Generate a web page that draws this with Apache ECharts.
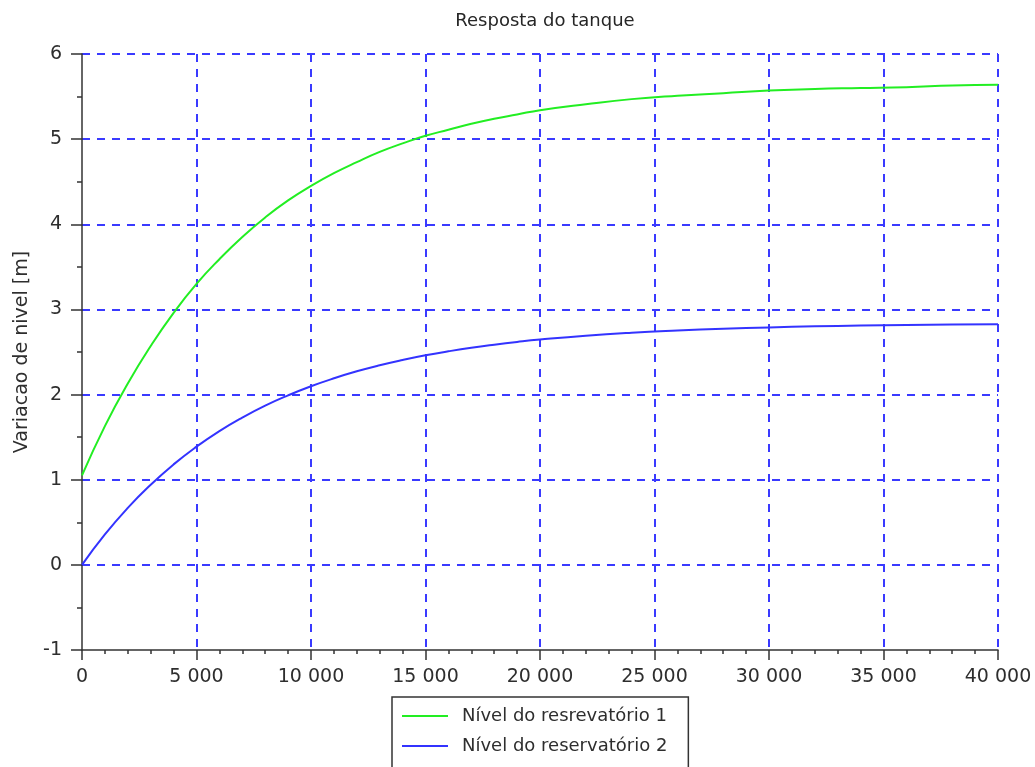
<!DOCTYPE html>
<html>
<head>
<meta charset="utf-8">
<title>Resposta do tanque</title>
<script src="https://cdn.jsdelivr.net/npm/echarts@6/dist/echarts.min.js"></script>
<style>
  html, body { margin: 0; padding: 0; background: #ffffff; }
  #chart { width: 1035px; height: 767px; }
</style>
</head>
<body>
<div id="chart"></div>
<script>
// Time samples (s) and level variation (m) of both reservoirs
const timePoints = [0, 1000, 2000, 3000, 4000, 5000, 6000, 7000, 8000, 9000,
  10000, 11000, 12000, 13000, 14000, 15000, 16000, 17000, 18000, 19000,
  20000, 22000, 24000, 26000, 28000, 30000, 32000, 34000, 36000, 38000, 40000];
const level1 = [1.05, 1.63, 2.13, 2.57, 2.96, 3.30, 3.59, 3.85, 4.08, 4.28,
  4.45, 4.60, 4.73, 4.85, 4.95, 5.04, 5.11, 5.18, 5.24, 5.29,
  5.34, 5.41, 5.47, 5.51, 5.54, 5.57, 5.59, 5.60, 5.61, 5.63, 5.64];
const level2 = [0, 0.357, 0.669, 0.941, 1.180, 1.388, 1.571, 1.730, 1.870, 1.991,
  2.098, 2.191, 2.273, 2.344, 2.406, 2.461, 2.508, 2.550, 2.586, 2.618,
  2.646, 2.692, 2.727, 2.753, 2.774, 2.789, 2.801, 2.810, 2.817, 2.823, 2.827];
const seriesNames = ['Nível do resrevatório 1', 'Nível do reservatório 2'];

const FONT = 'DejaVu Sans';
const TEXT = '#2e2e2e';
const AXIS = '#333333';
const GRID_LINE = { color: '#3a3aff', width: 2, type: [8, 7] };

function thousands(v) {
  return String(v).replace(/\B(?=(\d{3})+(?!\d))/g, ' ');
}
function pairs(xs, ys) {
  return xs.map((x, i) => [x, ys[i]]);
}

const chart = echarts.init(document.getElementById('chart'), null, { renderer: 'canvas' });
chart.setOption({
  animation: false,
  backgroundColor: '#ffffff',
  title: {
    text: 'Resposta do tanque',
    left: 540, top: 7, textAlign: 'center',
    textStyle: { fontFamily: FONT, fontSize: 18, fontWeight: 'normal', color: '#262626' }
  },
  grid: { left: 82, right: 37, top: 54, bottom: 117, containLabel: false },
  legend: {
    orient: 'vertical',
    left: 392, top: 697, height: 60,
    padding: [9, 21, 16, 10],
    itemGap: 10,
    icon: 'rect',
    itemWidth: 46, itemHeight: 2,
    borderColor: AXIS, borderWidth: 1.5,
    textStyle: { fontFamily: FONT, fontSize: 18, color: TEXT, lineHeight: 20, padding: [0, 0, 0, 9] },
    data: seriesNames
  },
  xAxis: {
    type: 'value', min: 0, max: 40000, interval: 5000,
    axisLine: { onZero: false, lineStyle: { color: AXIS, width: 1.5 } },
    axisTick: { length: 10, lineStyle: { color: AXIS, width: 1.5 } },
    minorTick: { show: true, splitNumber: 5, length: 4, lineStyle: { color: AXIS, width: 1.5 } },
    axisLabel: { fontFamily: FONT, fontSize: 19, color: TEXT, margin: 18, formatter: thousands },
    splitLine: { show: true, showMinLine: false, lineStyle: GRID_LINE }
  },
  yAxis: {
    type: 'value', min: -1, max: 6, interval: 1,
    name: 'Variacao de nivel [m]', nameLocation: 'middle', nameGap: 50,
    nameTextStyle: { fontFamily: FONT, fontSize: 19, color: TEXT },
    axisLine: { show: true, lineStyle: { color: AXIS, width: 1.5 } },
    axisTick: { show: true, length: 11, lineStyle: { color: AXIS, width: 1.5 } },
    minorTick: { show: true, splitNumber: 2, length: 5, lineStyle: { color: AXIS, width: 1.5 } },
    axisLabel: { fontFamily: FONT, fontSize: 19, color: TEXT, margin: 20 },
    splitLine: { show: true, showMinLine: false, lineStyle: GRID_LINE }
  },
  series: [
    {
      name: seriesNames[0], type: 'line', smooth: true, symbol: 'none',
      data: pairs(timePoints, level1),
      lineStyle: { color: '#22ee22', width: 2 }, itemStyle: { color: '#22ee22' }
    },
    {
      name: seriesNames[1], type: 'line', smooth: true, symbol: 'none',
      data: pairs(timePoints, level2),
      lineStyle: { color: '#3333ff', width: 2 }, itemStyle: { color: '#3333ff' }
    }
  ]
});
</script>
</body>
</html>
